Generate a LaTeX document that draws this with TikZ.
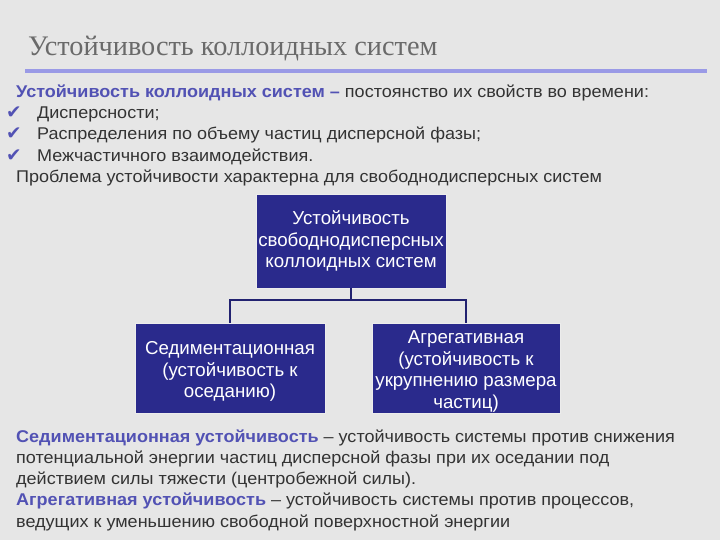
\documentclass[tikz,border=0pt]{standalone}
\usepackage{fontspec}
\setmainfont{Liberation Sans}[FakeStretch=1.06]
\newfontfamily\boxfont{Liberation Sans}
\newfontfamily\titlefont{Liberation Serif}
\newfontfamily\symfont{DejaVu Sans}
\definecolor{bg}{HTML}{E6E6E6}
\definecolor{navy}{HTML}{2A2A8C}
\definecolor{head}{HTML}{5252B4}
\definecolor{rule}{HTML}{9A9AE6}
\definecolor{txt}{HTML}{333333}
\definecolor{ttl}{HTML}{6A6A6A}
\tikzset{
  body/.style={anchor=base west, inner sep=0pt, text=txt, font=\fontsize{17}{21}\selectfont},
  chk/.style={anchor=base west, inner sep=0pt, text=head, font=\symfont\fontsize{18.5}{19}\selectfont},
  box/.style={fill=navy, draw=white!85!gray, line width=0.8pt, text=white, align=center,
    font=\boxfont\fontsize{18.7}{21.8}\selectfont, inner sep=0pt},
  boxlabel/.style={text=white, align=center, inner sep=0pt, yshift=-3.5pt,
    font=\boxfont\fontsize{18.7}{21.5}\selectfont},
  conn/.style={draw=navy!80!black, line width=1.6pt}
}
\begin{document}
\begin{tikzpicture}[x=1pt,y=-1pt]
\fill[bg] (0,0) rectangle (720,540);
\useasboundingbox (0,0) rectangle (720,540);
% title
\node[anchor=base west, inner sep=0pt, text=ttl, font=\titlefont\fontsize{28.3}{30}\selectfont] (title) at (28,56) {Устойчивость коллоидных систем};
\coordinate (rl) at (25,71);
\coordinate (rr) at (707,71);
\draw[rule, line width=4pt] (rl) -- (rr);
% upper text
\node[body] (l1) at (16,98) {\textbf{\color{head}Устойчивость коллоидных систем –} постоянство их свойств во времени:};
\node[chk] (c1) at (6,119) {✔};
\node[body] (l2) at (37,119) {Дисперсности;};
\node[chk] (c2) at (6,140) {✔};
\node[body] (l3) at (37,140) {Распределения по объему частиц дисперсной фазы;};
\node[chk] (c3) at (6,162) {✔};
\node[body] (l4) at (37,162) {Межчастичного взаимодействия.};
\node[body] (l5) at (16,183) {Проблема устойчивости характерна для свободнодисперсных систем};
% boxes
\node[box, minimum width=190pt, minimum height=94pt] (top) at (351,241) {Устойчивость\\свободнодисперсных\\коллоидных систем};
\node[box, minimum width=190pt, minimum height=90pt,
  label={[boxlabel]center:Седиментационная\\(устойчивость к\\оседанию)}] (left) at (230,368) {};
\node[box, minimum width=188pt, minimum height=90pt,
  label={[boxlabel]center:Агрегативная\\(устойчивость к\\укрупнению размера\\частиц)}] (right) at (466,368) {};
\coordinate (j) at (351,300);
\draw[conn] (top.south) -- (j);
\draw[conn] (left.north) |- (j) -| (right.north);
% lower text
\node[body] (b1) at (16,442) {\textbf{\color{head}Седиментационная устойчивость} – устойчивость системы против снижения};
\node[body] (b2) at (16,463) {потенциальной энергии частиц дисперсной фазы при их оседании под};
\node[body] (b3) at (16,484) {действием силы тяжести (центробежной силы).};
\node[body] (b4) at (16,505) {\textbf{\color{head}Агрегативная устойчивость} – устойчивость системы против процессов,};
\node[body] (b5) at (16,527) {ведущих к уменьшению свободной поверхностной энергии};
\end{tikzpicture}
\end{document}
